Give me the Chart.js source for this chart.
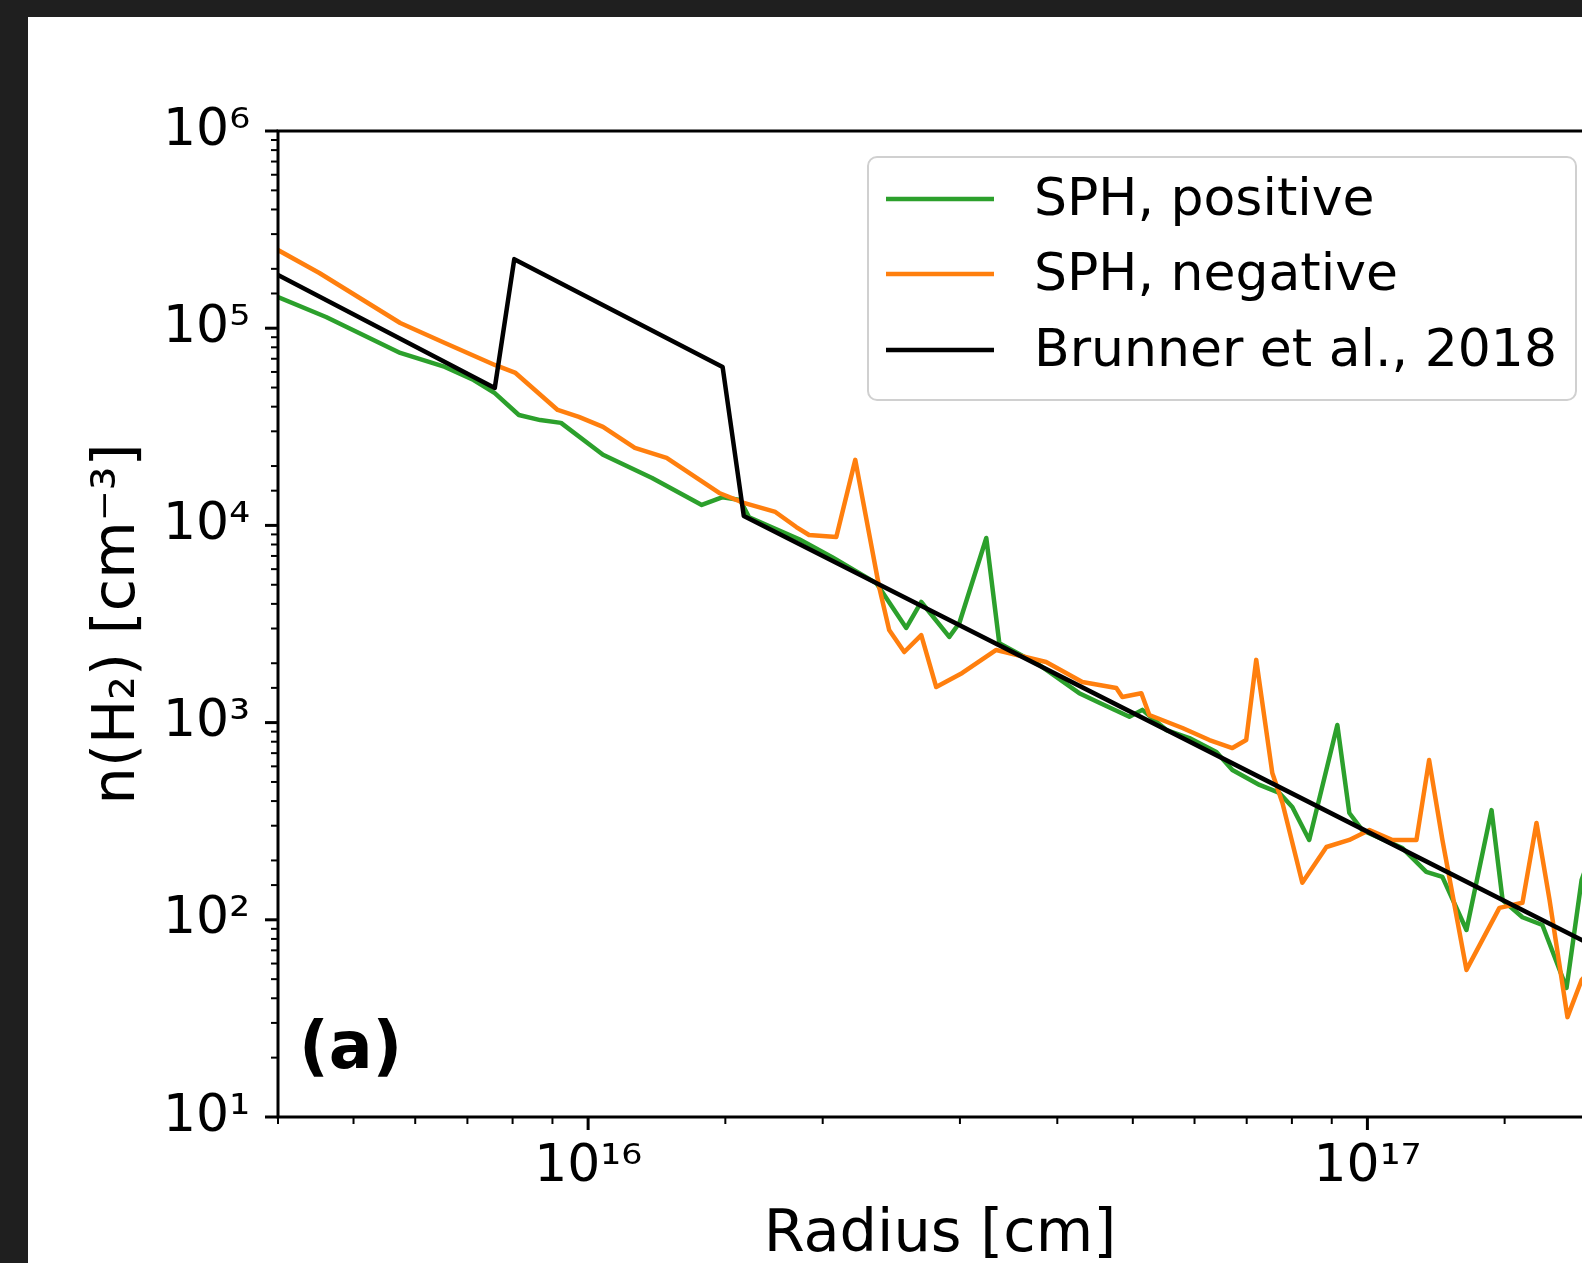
<!DOCTYPE html>
<html>
<head>
<meta charset="utf-8">
<title>n(H2) radial profile</title>
<script src="https://cdn.jsdelivr.net/npm/chart.js@4.4.1/dist/chart.umd.min.js"></script>
<style>
  html, body { margin: 0; padding: 0; background: #1f1f1f; overflow: hidden; }
  #panel { position: absolute; left: 28px; top: 17px; width: 1700px; height: 1246px; background: #ffffff; }
</style>
</head>
<body>
<div id="panel"><canvas id="profile" width="1700" height="1246"></canvas></div>
<script>
// Radius [cm] and n(H2) [cm^-3]
const positiveRadius = [4.0e15, 4.61e15, 5.74e15, 6.55e15, 7.13e15, 7.59e15, 8.15e15, 8.68e15, 9.23e15,
  1.045e16, 1.208e16, 1.399e16, 1.488e16, 1.567e16, 1.609e16, 1.866e16, 2.057e16, 2.343e16, 2.56e16,
  2.676e16, 2.907e16, 2.995e16, 3.243e16, 3.37e16, 3.793e16, 4.268e16, 4.529e16, 4.95e16, 5.143e16,
  5.521e16, 5.909e16, 6.40e16, 6.71e16, 7.27e16, 7.71e16, 8.01e16, 8.42e16, 9.15e16, 9.48e16, 9.85e16,
  1.109e17, 1.19e17, 1.248e17, 1.34e17, 1.443e17, 1.491e17, 1.581e17, 1.677e17, 1.801e17, 1.883e17, 1.985e17];
const positiveDensity = [1.44e5, 1.14e5, 7.49e4, 6.36e4, 5.46e4, 4.69e4, 3.63e4, 3.42e4, 3.31e4,
  2.28e4, 1.74e4, 1.27e4, 1.39e4, 1.345e4, 1.10e4, 8.5e3, 6.9e3, 5.10e3, 3.02e3,
  4.09e3, 2.72e3, 3.20e3, 8.63e3, 2.53e3, 1.96e3, 1.41e3, 1.26e3, 1.07e3, 1.16e3,
  917, 835, 709, 575, 483, 440, 373, 254, 972, 348, 285,
  231, 175, 165, 88.8, 360, 126, 103, 94.1, 45.1, 159, 285];

const negativeRadius = [4.0e15, 4.52e15, 5.74e15, 6.55e15, 7.59e15, 8.07e15, 9.14e15, 9.73e15,
  1.045e16, 1.148e16, 1.261e16, 1.473e16, 1.584e16, 1.739e16, 1.85e16, 1.921e16, 2.082e16, 2.202e16,
  2.363e16, 2.434e16, 2.545e16, 2.676e16, 2.797e16, 3.021e16, 3.34e16, 3.87e16, 4.307e16, 4.762e16,
  4.847e16, 5.128e16, 5.25e16, 5.79e16, 6.27e16, 6.71e16, 6.99e16, 7.20e16, 7.55e16, 7.78e16, 8.25e16,
  8.86e16, 9.48e16, 1.006e17, 1.077e17, 1.156e17, 1.20e17, 1.248e17, 1.34e17, 1.477e17, 1.581e17,
  1.648e17, 1.713e17, 1.806e17, 1.883e17, 1.985e17];
const negativeDensity = [2.49e5, 1.905e5, 1.063e5, 8.41e4, 6.51e4, 5.93e4, 3.85e4, 3.55e4,
  3.16e4, 2.47e4, 2.20e4, 1.46e4, 1.30e4, 1.17e4, 9.81e3, 8.94e3, 8.73e3, 2.15e4,
  4.87e3, 2.95e3, 2.28e3, 2.78e3, 1.515e3, 1.785e3, 2.335e3, 2.03e3, 1.607e3, 1.498e3,
  1.348e3, 1.41e3, 1.093e3, 939, 816, 743, 816, 2.08e3, 555, 391, 154,
  234, 254, 285, 254, 254, 646, 254, 55.7, 115, 122,
  310, 126, 32.1, 49.5, 62.5];

const brunnerRadius = [4.0e15, 7.59e15, 8.04e15, 1.488e16, 1.584e16, 1.0e17, 2.0e17];
const brunnerDensity = [1.86e5, 4.98e4, 2.24e5, 6.36e4, 1.116e4, 280, 70];

const seriesLabels = ['SPH, positive', 'SPH, negative', 'Brunner et al., 2018'];

const xTickValues = [1e16, 1e17];
const xTickLabels = ['10\u00b9\u2076', '10\u00b9\u2077'];
const yTickValues = [1e1, 1e2, 1e3, 1e4, 1e5, 1e6];
const yTickLabels = ['10\u00b9', '10\u00b2', '10\u00b3', '10\u2074', '10\u2075', '10\u2076'];

const FONT = 'DejaVu Sans';

function toPoints(xs, ys) {
  return xs.map((x, i) => ({ x: x, y: ys[i] }));
}

function isPower(v) {
  const l = Math.log10(v);
  return Math.abs(l - Math.round(l)) < 1e-6;
}

function labelFor(values, labels) {
  return function(value) {
    const i = values.findIndex(v => Math.abs(Math.log10(v / value)) < 1e-6);
    return i >= 0 ? labels[i] : '';
  };
}

// axes frame and matplotlib-like major/minor tick marks
const frameAndTicks = {
  id: 'frameAndTicks',
  afterDraw(chart) {
    const { ctx, chartArea: area, scales } = chart;
    ctx.save();
    ctx.strokeStyle = '#000';
    ctx.lineWidth = 3;
    ctx.strokeRect(area.left, area.top, area.right - area.left, area.bottom - area.top);

    scales.x.ticks.forEach(t => {
      const px = scales.x.getPixelForValue(t.value);
      if (px < area.left - 1 || px > area.right + 1) return;
      const major = isPower(t.value);
      ctx.lineWidth = major ? 3 : 2;
      ctx.beginPath();
      ctx.moveTo(px, area.bottom);
      ctx.lineTo(px, area.bottom + (major ? 13 : 7));
      ctx.stroke();
    });
    scales.y.ticks.forEach(t => {
      const py = scales.y.getPixelForValue(t.value);
      if (py < area.top - 1 || py > area.bottom + 1) return;
      const major = isPower(t.value);
      ctx.lineWidth = major ? 3 : 2;
      ctx.beginPath();
      ctx.moveTo(area.left, py);
      ctx.lineTo(area.left - (major ? 13 : 7), py);
      ctx.stroke();
    });
    ctx.restore();
  }
};

// legend box in the upper right corner and the panel tag
const insideLegend = {
  id: 'insideLegend',
  afterDraw(chart) {
    const ctx = chart.ctx;
    const box = { x: 840, y: 140, w: 708, h: 243, r: 9 };
    ctx.save();
    ctx.beginPath();
    ctx.roundRect(box.x, box.y, box.w, box.h, box.r);
    ctx.fillStyle = 'rgba(255,255,255,0.8)';
    ctx.fill();
    ctx.lineWidth = 2;
    ctx.strokeStyle = '#d0d0d0';
    ctx.stroke();

    const rows = [182, 257, 333];
    ctx.font = '52px "' + FONT + '"';
    ctx.textBaseline = 'middle';
    ctx.textAlign = 'left';
    chart.data.datasets.forEach((ds, i) => {
      ctx.strokeStyle = ds.borderColor;
      ctx.lineWidth = 4.5;
      ctx.beginPath();
      ctx.moveTo(858, rows[i]);
      ctx.lineTo(966, rows[i]);
      ctx.stroke();
      ctx.fillStyle = '#000';
      ctx.fillText(ds.label, 1006, rows[i] + 2);
    });

    ctx.font = 'bold 65px "' + FONT + '"';
    ctx.textBaseline = 'alphabetic';
    ctx.fillText('(a)', 271, 1051);
    ctx.restore();
  }
};

const ctx = document.getElementById('profile').getContext('2d');
const chart = new Chart(ctx, {
  type: 'line',
  data: {
    datasets: [
      { label: seriesLabels[0], data: toPoints(positiveRadius, positiveDensity), borderColor: '#2ca02c', order: 3 },
      { label: seriesLabels[1], data: toPoints(negativeRadius, negativeDensity), borderColor: '#ff7f0e', order: 2 },
      { label: seriesLabels[2], data: toPoints(brunnerRadius, brunnerDensity), borderColor: '#000000', order: 1 }
    ]
  },
  options: {
    responsive: false,
    animation: false,
    devicePixelRatio: 1,
    layout: { padding: { top: 114, right: 126, left: 0, bottom: 0 } },
    elements: {
      point: { radius: 0, hoverRadius: 0 },
      line: { tension: 0, borderWidth: 4.5, borderJoinStyle: 'round', borderCapStyle: 'round', fill: false }
    },
    plugins: {
      legend: { display: false },
      tooltip: { enabled: false }
    },
    scales: {
      x: {
        type: 'logarithmic',
        position: 'bottom',
        min: 4e15,
        max: 2e17,
        grid: { display: false, drawTicks: false, tickLength: 0 },
        border: { display: false },
        ticks: {
          autoSkip: false, maxRotation: 0, minRotation: 0, padding: 19,
          color: '#000', font: { family: FONT, size: 52 },
          callback: labelFor(xTickValues, xTickLabels)
        },
        title: {
          display: true, text: 'Radius [cm]', color: '#000',
          font: { family: FONT, size: 59 }, padding: { top: 0, bottom: -8 }
        },
        afterFit(scale) { scale.height = 146; }
      },
      y: {
        type: 'logarithmic',
        position: 'left',
        min: 10,
        max: 1e6,
        grid: { display: false, drawTicks: false, tickLength: 0 },
        border: { display: false },
        ticks: {
          autoSkip: false, padding: 28,
          color: '#000', font: { family: FONT, size: 52 },
          callback: labelFor(yTickValues, yTickLabels)
        },
        title: {
          display: true, text: 'n(H\u2082) [cm\u207b\u00b3]', color: '#000',
          font: { family: FONT, size: 59 }, padding: { top: 55, bottom: 0 }
        },
        afterFit(scale) { scale.width = 250; }
      }
    }
  },
  plugins: [frameAndTicks, insideLegend]
});
</script>
</body>
</html>
